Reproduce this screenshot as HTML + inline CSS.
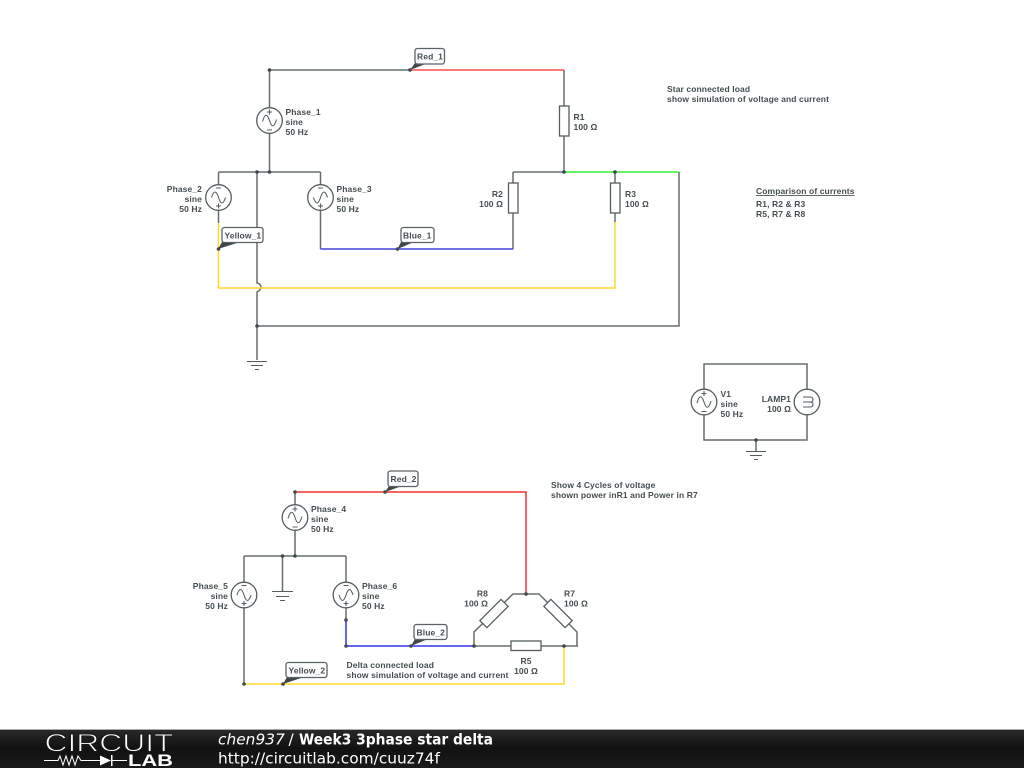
<!DOCTYPE html>
<html><head><meta charset="utf-8"><style>
html,body{margin:0;padding:0;background:#fff;width:1024px;height:768px;overflow:hidden}
svg{display:block}
.w{fill:none;stroke:#666d71;stroke-width:1.5}
.c{fill:#fff;stroke:#555d61;stroke-width:1.3}
.s{fill:none;stroke:#555d61;stroke-width:1.1}
.d{fill:#3f474b}
text{font-family:"Liberation Sans",sans-serif;font-weight:bold;font-size:8.5px;fill:#454d51;letter-spacing:.1px}
.e{text-anchor:end}
.l{fill:#fff;stroke:#5a6266;stroke-width:1.3}
.f text{font-family:"DejaVu Sans",sans-serif;font-size:15.400px;fill:#fff;font-weight:normal;letter-spacing:0}
</style></head><body>
<svg width="1024" height="768" viewBox="0 0 1024 768" xmlns="http://www.w3.org/2000/svg">
<defs><linearGradient id="g" x1="0" y1="0" x2="0" y2="1"><stop offset="0" stop-color="#2a2a2a"/><stop offset=".5" stop-color="#111"/><stop offset="1" stop-color="#1a1a1a"/></linearGradient></defs>

<!-- top circuit wires -->
<path class="w" d="M269.500 70H410M564 70V172M269.500 70V172M218.500 172H320.500M218.500 172V223M320.500 172V249M513 172H564M513 172V249M615 172V222M679 172V326H257M257 172V283Q261 284 261 287Q261 290 257 292V360"/>
<path fill="none" stroke="#ff4d4d" stroke-width="1.5" d="M410 70H564"/>
<path fill="none" stroke="#33ee33" stroke-width="1.5" d="M564 172H679"/>
<path fill="none" stroke="#ffd92e" stroke-width="1.5" d="M218.500 223V288H615V222"/>
<path fill="none" stroke="#4444dd" stroke-width="1.5" d="M320.500 249H513"/>
<!-- bottom circuit wires -->
<path class="w" d="M295 492V556M244 556H346M244 556V684M346 556V620M282.500 556V592M474 646H578M474 646V632L513 594H539L577 632V646"/>
<path fill="none" stroke="#ee3333" stroke-width="1.5" d="M295 492H526V594"/>
<path fill="none" stroke="#3333ee" stroke-width="1.5" d="M346 620V646H474"/>
<path fill="none" stroke="#ffd92e" stroke-width="1.5" d="M244 684H564V646"/>
<!-- lamp circuit -->
<path class="w" d="M704 364H807V440H704ZM756 440V451"/>

<!-- grounds -->
<path class="s" d="M247 361.500H267M251 365.500H263M255 369.500H259"/>
<path class="s" d="M746 451.500H766M750 455.500H762M754 459.500H758"/>
<path class="s" d="M272 591.500H293M276 596.500H289M280 600.500H285"/>

<!-- resistors -->
<rect class="c" x="559.500" y="106" width="9.500" height="30"/>
<rect class="c" x="508.500" y="183" width="9.500" height="30"/>
<rect class="c" x="610.500" y="183" width="9.500" height="30"/>
<rect class="c" x="511" y="641" width="30" height="9.500"/>
<rect class="c" x="479" y="608.500" width="30" height="10" transform="rotate(-45 494 613.500)"/>
<rect class="c" x="543" y="608.500" width="30" height="10" transform="rotate(45 558 613.500)"/>

<!-- sources -->
<g>
<g transform="translate(269.500 120.500)"><circle class="c" r="12.800"/><path class="s" d="M-7 1Q-3.500 -11 0 0T7 -1M0 -11V-6M-2.500 -8.500H2.500M-2.500 9.500H2.500"/></g>
<g transform="translate(218.500 197.500)"><circle class="c" r="12.800"/><path class="s" d="M-7 0Q-3.500 -11 0 0T7 0M0 6V11M-2.500 8.500H2.500M-2.500 -9.500H2.500"/></g>
<g transform="translate(320.500 197.500)"><circle class="c" r="12.800"/><path class="s" d="M-7 0Q-3.500 11 0 0T7 0M0 6V11M-2.500 8.500H2.500M-2.500 -9.500H2.500"/></g>
<g transform="translate(704 402)"><circle class="c" r="12.800"/><path class="s" d="M-7 1Q-3.500 -11 0 0T7 -1M0 -11V-6M-2.500 -8.500H2.500M-2.500 9.500H2.500"/></g>
<g transform="translate(295 517.500)"><circle class="c" r="12.800"/><path class="s" d="M-7 1Q-3.500 -11 0 0T7 -1M0 -11V-6M-2.500 -8.500H2.500M-2.500 9.500H2.500"/></g>
<g transform="translate(244 595)"><circle class="c" r="12.800"/><path class="s" d="M-7 0Q-3.500 -11 0 0T7 0M0 6V11M-2.500 8.500H2.500M-2.500 -9.500H2.500"/></g>
<g transform="translate(346 595)"><circle class="c" r="12.800"/><path class="s" d="M-7 0Q-3.500 11 0 0T7 0M0 6V11M-2.500 8.500H2.500M-2.500 -9.500H2.500"/></g>
</g>
<!-- lamp -->
<g transform="translate(807 402)"><circle class="c" r="12.800"/><path class="s" d="M-4 -5H3Q6 -5 6 -2.500T3 0H-4M3 0Q6 0 6 2.500T3 5H-4"/></g>

<!-- dots -->
<g class="d">
<circle cx="269.500" cy="70" r="1.800"/><circle cx="410" cy="70" r="1.800"/><circle cx="257" cy="172" r="1.800"/><circle cx="269.500" cy="172" r="1.800"/>
<circle cx="564" cy="172" r="1.800"/><circle cx="615" cy="172" r="1.800"/><circle cx="218.500" cy="249" r="1.800"/><circle cx="397.500" cy="249" r="1.800"/>
<circle cx="257" cy="326" r="1.800"/><circle cx="756" cy="440" r="1.800"/>
<circle cx="295" cy="492" r="1.800"/><circle cx="385" cy="492" r="1.800"/><circle cx="282.500" cy="556" r="1.800"/><circle cx="295" cy="556" r="1.800"/>
<circle cx="346" cy="620" r="1.800"/><circle cx="346" cy="646" r="1.800"/><circle cx="411" cy="646" r="1.800"/><circle cx="474" cy="646" r="1.800"/>
<circle cx="564" cy="646" r="1.800"/><circle cx="526" cy="594" r="1.800"/><circle cx="244" cy="684" r="1.800"/><circle cx="283" cy="684" r="1.800"/>
</g>

<!-- net labels -->
<path class="d" d="M410 70L415 63H428Z"/><rect class="l" x="415" y="48.500" width="29.500" height="15.500" rx="2.500"/><text x="417" y="59.500">Red_1</text>
<path class="d" d="M218 249L222 242H240Z"/><rect class="l" x="222" y="227.500" width="41" height="15" rx="2.500"/><text x="224.500" y="238.500">Yellow_1</text>
<path class="d" d="M397.500 249L401 242H414Z"/><rect class="l" x="401" y="227.500" width="33" height="15" rx="2.500"/><text x="403" y="238.500">Blue_1</text>
<path class="d" d="M385 492L389 486H402Z"/><rect class="l" x="388" y="471" width="30" height="15.500" rx="2.500"/><text x="390.500" y="482">Red_2</text>
<path class="d" d="M411 646L415 639H428Z"/><rect class="l" x="414" y="624.500" width="33" height="15" rx="2.500"/><text x="416.500" y="635.500">Blue_2</text>
<path class="d" d="M283 684L287 677H304Z"/><rect class="l" x="286" y="662.500" width="41" height="15" rx="2.500"/><text x="288.500" y="673.500">Yellow_2</text>

<!-- component labels -->
<text x="285.500" y="115">Phase_1</text><text x="285.500" y="125">sine</text><text x="285.500" y="135">50 Hz</text>
<text class="e" x="202" y="192">Phase_2</text><text class="e" x="202" y="202">sine</text><text class="e" x="202" y="212">50 Hz</text>
<text x="336.500" y="192">Phase_3</text><text x="336.500" y="202">sine</text><text x="336.500" y="212">50 Hz</text>
<text x="573.500" y="120">R1</text><text x="573.500" y="130">100 Ω</text>
<text class="e" x="503" y="197">R2</text><text class="e" x="503" y="207">100 Ω</text>
<text x="625" y="197">R3</text><text x="625" y="207">100 Ω</text>
<text x="720.500" y="397">V1</text><text x="720.500" y="407">sine</text><text x="720.500" y="417">50 Hz</text>
<text class="e" x="791" y="402">LAMP1</text><text class="e" x="791" y="412">100 Ω</text>
<text x="311" y="512">Phase_4</text><text x="311" y="522">sine</text><text x="311" y="532">50 Hz</text>
<text class="e" x="228" y="589">Phase_5</text><text class="e" x="228" y="599">sine</text><text class="e" x="228" y="609">50 Hz</text>
<text x="362" y="589">Phase_6</text><text x="362" y="599">sine</text><text x="362" y="609">50 Hz</text>
<text class="e" x="488" y="596.500">R8</text><text class="e" x="488" y="606.500">100 Ω</text>
<text x="564" y="596.500">R7</text><text x="564" y="606.500">100 Ω</text>
<text x="526" y="664" text-anchor="middle">R5</text><text x="526" y="674" text-anchor="middle">100 Ω</text>

<!-- notes -->
<text x="667" y="92">Star connected load</text><text x="667" y="102">show simulation of voltage and current</text>
<text x="756" y="194" text-decoration="underline">Comparison of currents</text><text x="756" y="207">R1, R2 &amp; R3</text><text x="756" y="217">R5, R7 &amp; R8</text>
<text x="551" y="488">Show 4 Cycles of voltage</text><text x="551" y="498">shown power inR1 and Power in R7</text>
<text x="346.500" y="668">Delta connected load</text><text x="346.500" y="678">show simulation of voltage and current</text>

<!-- footer -->
<g class="f">
<rect x="0" y="729" width="1024" height="39" fill="url(#g)"/>
<rect x="0" y="729" width="1024" height="1" fill="#aaa"/>
<text x="44.500" y="751.500" textLength="129" lengthAdjust="spacingAndGlyphs" style="font-family:'Liberation Sans',sans-serif;font-size:25px;fill:#fff;stroke:#181818;stroke-width:.9">CIRCUIT</text>
<path fill="none" stroke="#fff" stroke-width="1" d="M44 760.500H58L60 756L63 765L66 756L69 765L72 756L75 765L78 756L81 760.500H100M112 760.500H127"/>
<path fill="#fff" d="M100 755.500L111 760.500L100 765.500Z"/><rect x="111" y="755" width="1.500" height="11" fill="#fff"/>
<text x="128" y="766" textLength="45" lengthAdjust="spacingAndGlyphs" style="font-family:'Liberation Sans',sans-serif;font-weight:bold;font-size:17px">LAB</text>
<text x="218" y="744.500" font-style="italic">chen937</text>
<text x="288.500" y="744.500">/</text>
<text x="299" y="744.500" textLength="194" lengthAdjust="spacingAndGlyphs" style="font-weight:bold">Week3 3phase star delta</text>
<text x="218" y="763.500">http://circuitlab.com/cuuz74f</text>
</g>
</svg>
</body></html>
